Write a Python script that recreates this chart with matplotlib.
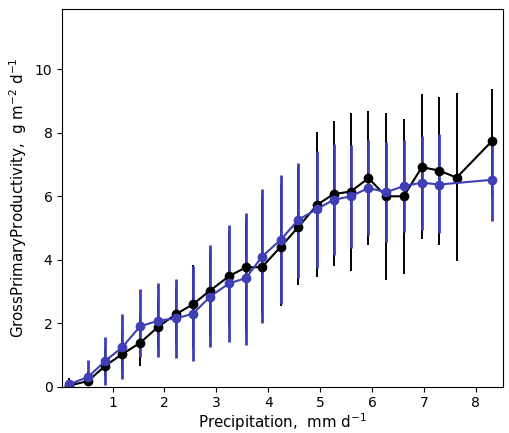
import matplotlib
matplotlib.use("Agg")
import matplotlib.pyplot as plt
import numpy as np

# bin centres of precipitation, mm/d
precip_black = [0.16, 0.53, 0.86, 1.19, 1.53, 1.88, 2.22, 2.55, 2.88, 3.25, 3.57, 3.88,
                4.24, 4.58, 4.94, 5.26, 5.59, 5.93, 6.27, 6.61, 6.96, 7.29, 7.63, 8.31]
gpp_black = [0.03, 0.18, 0.66, 1.03, 1.38, 1.89, 2.28, 2.60, 3.03, 3.49, 3.76, 3.77,
             4.41, 5.03, 5.73, 6.07, 6.15, 6.57, 6.00, 6.00, 6.92, 6.81, 6.59, 7.74]
low_black = [0.0, 0.15, 0.3, 0.5, 0.65, 1.2, 1.3, 1.2, 1.6, 1.9, 1.7, 2.3,
             2.55, 3.20, 3.45, 3.79, 3.66, 4.45, 3.37, 3.56, 4.65, 4.45, 3.95, 6.0]
high_black = [0.26, 0.5, 1.2, 1.8, 2.3, 2.8, 3.1, 3.85, 4.3, 4.9, 5.3, 6.0,
              6.4, 6.9, 8.03, 8.37, 8.63, 8.68, 8.63, 8.44, 9.21, 9.13, 9.27, 9.38]

precip_blue = [0.16, 0.53, 0.86, 1.19, 1.53, 1.88, 2.22, 2.55, 2.88, 3.25, 3.57, 3.88,
               4.24, 4.58, 4.94, 5.26, 5.59, 5.93, 6.27, 6.61, 6.96, 7.29, 8.31]
gpp_blue = [0.07, 0.31, 0.81, 1.25, 1.90, 2.08, 2.15, 2.30, 2.84, 3.26, 3.42, 4.10,
            4.63, 5.26, 5.60, 5.89, 6.00, 6.26, 6.13, 6.32, 6.43, 6.37, 6.52]
low_blue = [0.0, 0.10, 0.05, 0.23, 0.92, 0.94, 0.89, 0.82, 1.24, 1.42, 1.31, 2.02,
            2.60, 3.42, 3.73, 4.16, 4.37, 4.77, 4.55, 4.88, 4.95, 4.84, 5.21]
high_blue = [0.12, 0.83, 1.57, 2.29, 3.08, 3.26, 3.40, 3.80, 4.45, 5.09, 5.47, 6.24,
             6.66, 7.05, 7.42, 7.66, 7.61, 7.77, 7.70, 7.77, 7.89, 7.97, 7.80]


def yerr(y, lo, hi):
    y, lo, hi = np.array(y), np.array(lo), np.array(hi)
    return np.vstack([y - lo, hi - y])


fig = plt.figure(figsize=(5.1, 4.33), dpi=100)
ax = fig.add_axes([0.122, 0.107, 0.864, 0.872])

ax.errorbar(precip_black, gpp_black, yerr=yerr(gpp_black, low_black, high_black),
            color='black', marker='o', ms=6, lw=1.5, elinewidth=1.4, capsize=0)
ax.errorbar(precip_blue, gpp_blue, yerr=yerr(gpp_blue, low_blue, high_blue),
            color='#3f3fb5', marker='o', ms=6, lw=1.5, elinewidth=2.0, capsize=0)

ax.set_xlim(0.03, 8.52)
ax.set_ylim(0, 11.9)
ax.set_xticks([1, 2, 3, 4, 5, 6, 7, 8])
ax.set_yticks([0, 2, 4, 6, 8, 10])
ax.set_xlabel(r'Precipitation,  mm d$^{-1}$', fontsize=10.8, labelpad=1)
ax.set_ylabel(r'GrossPrimaryProductivity,  g m$^{-2}$ d$^{-1}$', fontsize=10.8)

fig.savefig('out.png', dpi=100)
